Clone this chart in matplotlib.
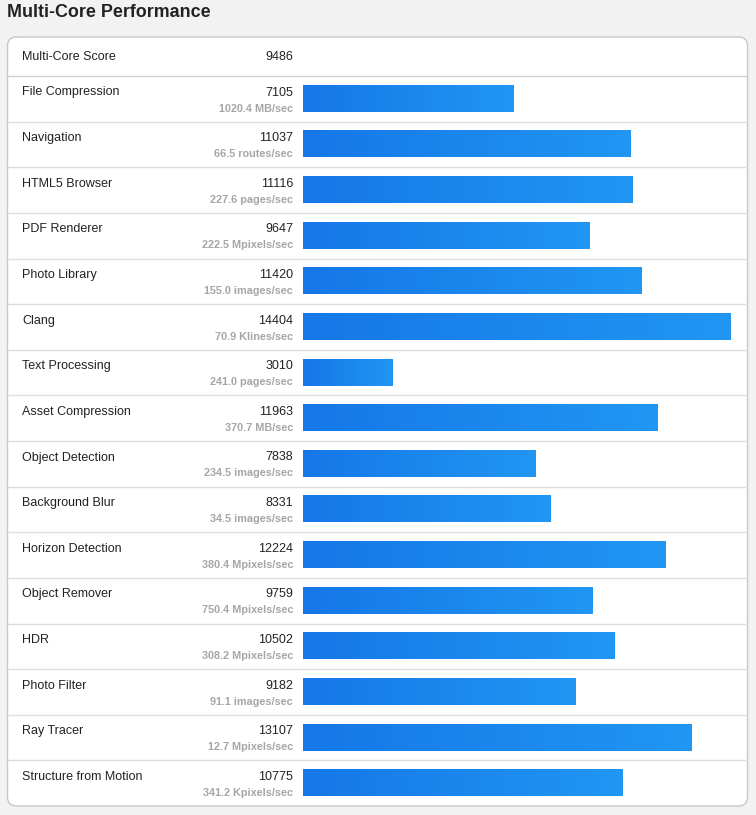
import matplotlib
matplotlib.use("Agg")
import matplotlib.pyplot as plt
import numpy as np
from matplotlib.patches import FancyBboxPatch
from matplotlib.colors import LinearSegmentedColormap

plt.rcParams['font.family'] = ['Liberation Sans', 'DejaVu Sans']

title = "Multi-Core Performance"
overall_label = "Multi-Core Score"
overall_score = 9486
names = ["File Compression", "Navigation", "HTML5 Browser", "PDF Renderer",
         "Photo Library", "Clang", "Text Processing", "Asset Compression",
         "Object Detection", "Background Blur", "Horizon Detection",
         "Object Remover", "HDR", "Photo Filter", "Ray Tracer",
         "Structure from Motion"]
scores = [7105, 11037, 11116, 9647, 11420, 14404, 3010, 11963, 7838, 8331,
          12224, 9759, 10502, 9182, 13107, 10775]
rates = ["1020.4 MB/sec", "66.5 routes/sec", "227.6 pages/sec",
         "222.5 Mpixels/sec", "155.0 images/sec", "70.9 Klines/sec",
         "241.0 pages/sec", "370.7 MB/sec", "234.5 images/sec",
         "34.5 images/sec", "380.4 Mpixels/sec", "750.4 Mpixels/sec",
         "308.2 Mpixels/sec", "91.1 images/sec", "12.7 Mpixels/sec",
         "341.2 Kpixels/sec"]
scale_max = 14500

W, H = 756, 815
fig = plt.figure(figsize=(W / 100, H / 100), dpi=100)
fig.patch.set_facecolor('#f2f2f2')

ax = fig.add_axes([0, 0, 1, 1])
ax.set_xlim(0, W)
ax.set_ylim(H, 0)
ax.axis('off')

# title
ax.text(7, 12.5, title, fontsize=12.9, fontweight='bold', color='#222222',
        va='center', ha='left')

# card
card_top, card_bot = 37, 806
card = FancyBboxPatch((7.5, card_top), 740, card_bot - card_top,
                      boxstyle="round,pad=0,rounding_size=9",
                      facecolor='white', edgecolor='#c8c8c8', linewidth=1)
ax.add_patch(card)

header_bot = 76
row_h = (card_bot - header_bot) / len(names)

ax.text(22, 57, overall_label, fontsize=9, color='#222222', va='center', ha='left')
ax.text(293, 57, str(overall_score), fontsize=9, color='#222222', va='center', ha='right')
ax.plot([8, 747], [header_bot, header_bot], color='#d0d0d0', lw=1)

for i, (n, s, r) in enumerate(zip(names, scores, rates)):
    top = header_bot + i * row_h
    if i > 0:
        ax.plot([8, 747], [top, top], color='#dddddd', lw=1)
    ax.text(22, top + 16.5, n, fontsize=9, color='#222222', va='center', ha='left')
    ax.text(293, top + 16.5, str(s), fontsize=9, color='#222222', va='center', ha='right')
    ax.text(293, top + 32.5, r, fontsize=7.8, color='#a6a6a6', va='center',
            ha='right', fontweight='bold')

# bars axes
bx0, bx1 = 303, 733
bax = fig.add_axes([bx0 / W, 1 - card_bot / H, (bx1 - bx0) / W,
                    (card_bot - header_bot) / H])
bax.axis('off')
bax.patch.set_alpha(0)

cmap = LinearSegmentedColormap.from_list('g', ['#1577e8', '#2196f3'])
grad = np.linspace(0, 1, 256).reshape(1, -1)
bh = 27 / row_h
ypos = np.arange(len(names)) + 0.5 - 0.5 / row_h
bars = bax.barh(ypos, scores, height=bh, color='#1a86ee', linewidth=0)
for b, s, y in zip(bars, scores, ypos):
    im = bax.imshow(grad, cmap=cmap, aspect='auto',
                    extent=(0, s, y + bh / 2, y - bh / 2), zorder=3)
    im.set_clip_path(b)
bax.set_xlim(0, scale_max)
bax.set_ylim(len(names), 0)

fig.savefig('out.png', dpi=100, facecolor=fig.get_facecolor())
